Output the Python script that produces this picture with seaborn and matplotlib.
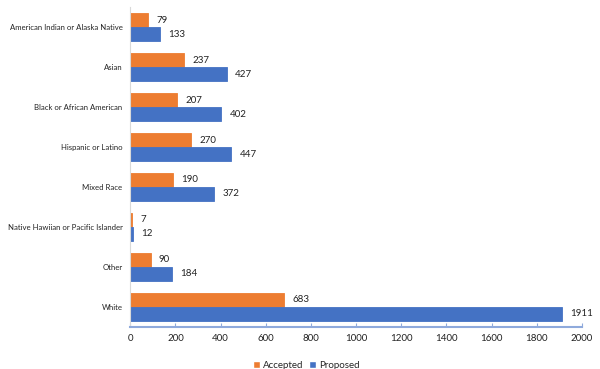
import pandas as pd
import matplotlib.pyplot as plt
import seaborn as sns

# --- data ---
groups = ['American Indian or Alaska Native', 'Asian', 'Black or African American',
          'Hispanic or Latino', 'Mixed Race', 'Native Hawiian or Pacific Islander',
          'Other', 'White']
accepted = [79, 237, 207, 270, 190, 7, 90, 683]
proposed = [133, 427, 402, 447, 372, 12, 184, 1911]

df = pd.DataFrame({'group': groups * 2,
                   'value': accepted + proposed,
                   'status': ['Accepted'] * len(groups) + ['Proposed'] * len(groups)})

sns.set_style('white')
plt.rcParams['font.family'] = ['Lato', 'DejaVu Sans']

fig = plt.figure(figsize=(6, 3.69), dpi=100)
ax = fig.add_axes([0.217, 0.115, 0.753, 0.865])

palette = {'Accepted': '#ED7D31', 'Proposed': '#4472C4'}
sns.barplot(data=df, y='group', x='value', hue='status', palette=palette,
            orient='h', width=0.7, gap=0, saturation=1, ax=ax, legend=True)

for cont in ax.containers:
    for bar in cont:
        bar.set_edgecolor(bar.get_facecolor()[:3] + (1,))
        bar.set_linewidth(0.6)
    ax.bar_label(cont, padding=6, fontsize=7, color='#222222')

ax.set_xlim(0, 2000)
ax.set_xticks(range(0, 2001, 200))
ax.set_ylim(len(groups) - 0.5, -0.5)
ax.set_xlabel('')
ax.set_ylabel('')
ax.tick_params(axis='y', labelsize=5.6, colors='#222222', length=0, pad=5.5)
ax.tick_params(axis='x', labelsize=7, colors='#222222', length=3, direction='in',
               bottom=True, pad=5)
ax.tick_params(axis='x', color='#8FAADC')
for side in ['top', 'right']:
    ax.spines[side].set_visible(False)
ax.spines['left'].set_color('#D9D9D9')
ax.spines['left'].set_linewidth(0.8)
ax.spines['bottom'].set_color('#8FAADC')
ax.spines['bottom'].set_linewidth(1.5)

ax.legend(loc='upper center', bbox_to_anchor=(0.39, -0.08), ncol=2, frameon=False,
          fontsize=7, handlelength=0.7, handleheight=0.7, handletextpad=0.3,
          columnspacing=0.6)

fig.savefig('out.png', dpi=100)
